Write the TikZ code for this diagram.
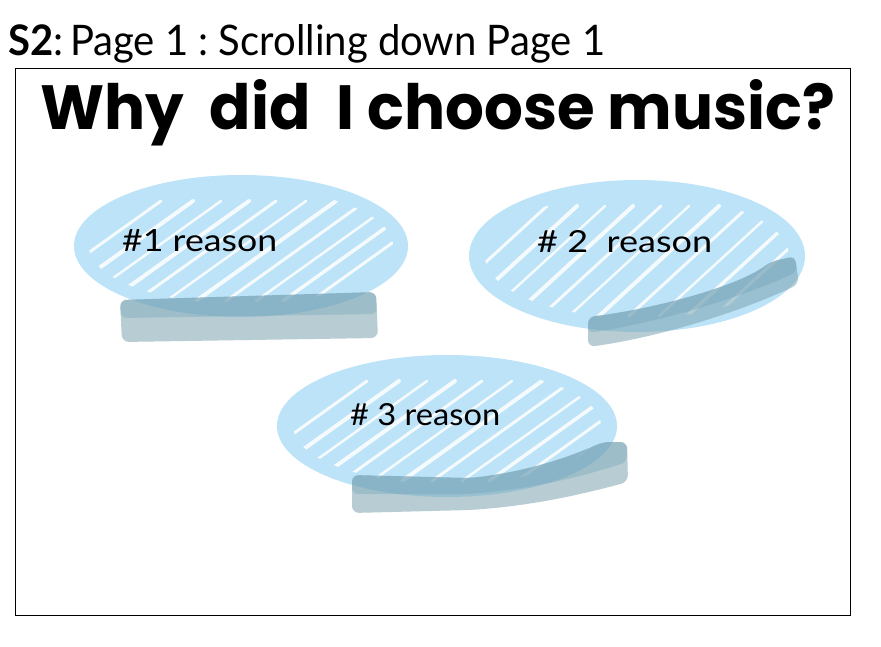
\documentclass[tikz,border=0pt]{standalone}
\usepackage{fontspec}
\usepackage{graphicx}
\setmainfont{Lato}
\newfontfamily\headfont{Poppins}
\newfontfamily\handfont{Lato}
\usetikzlibrary{shapes.geometric}
\definecolor{bubble}{RGB}{189,227,248}
\definecolor{shade}{RGB}{125,165,176}
\definecolor{shadetop}{RGB}{110,160,185}
\tikzset{
  bubblebox/.style={ellipse, fill=bubble, draw=none, inner sep=0pt},
  streak/.style={white, line cap=round, opacity=0.85},
  shadowbar/.style={fill=shade, opacity=0.55, rounded corners=7pt},
  shadowtop/.style={fill=shadetop, opacity=0.35, rounded corners=6pt},
  labeltext/.style={anchor=base west, inner sep=0pt, text=black},
}
\begin{document}
\begin{tikzpicture}[x=1pt,y=-1pt]
\useasboundingbox (0,0) rectangle (881,647);
\fill[white] (0,0) rectangle (881,647);

% title
\node[labeltext] (title) at (8,56) {\resizebox{597pt}{31pt}{\handfont\textbf{S2}:\,Page 1 :\ Scrolling\ down\ Page 1}};

% frame
\node[draw=black, line width=1.4pt, minimum width=835pt, minimum height=547pt, inner sep=0pt, anchor=north west] (frame) at (15,68) {};

% heading
\node[labeltext] (head) at (40,130) {\resizebox{795pt}{50pt}{\headfont\bfseries Why\ \ did\ \ I choose\ music?}};

% ---- bubble 1
\node[bubblebox, minimum width=334pt, minimum height=142pt] (b1) at (241,246) {};
\begin{scope}
\clip (b1.center) ellipse [x radius=152pt, y radius=58pt];
\foreach \a/\w in {-150/3,-118/4,-90/2.5,-62/4,-35/3,-5/2.5,25/4,55/3,85/2.5,112/3.5,140/3,168/2.5}{
  \draw[streak, line width=\w pt] ([xshift=\a pt-70pt, yshift=-55pt]b1.center) -- ([xshift=\a pt+70pt, yshift=45pt]b1.center);
}
\end{scope}
\fill[shadowbar] (120,300) -- (248,296) -- (376,292) -- (378,338) -- (250,340) -- (122,342) -- cycle;
\fill[shadowtop] (120,300) -- (248,296) -- (376,292) -- (377,314) -- (250,316) -- (121,318) -- cycle;
\node[labeltext] (t1) at (122,252) {\resizebox{155pt}{22pt}{\handfont\#1 reason}};

% ---- bubble 2
\node[bubblebox, minimum width=336pt, minimum height=152pt] (b2) at (637,256) {};
\begin{scope}
\clip (b2.center) ellipse [x radius=152pt, y radius=62pt];
\foreach \a/\w in {-150/3,-120/4,-92/2.5,-64/4,-36/3,-8/2.5,22/4,52/3,82/2.5,110/3.5,138/3,166/2.5}{
  \draw[streak, line width=\w pt] ([xshift=\a pt-60pt, yshift=-60pt]b2.center) -- ([xshift=\a pt+60pt, yshift=50pt]b2.center);
}
\end{scope}
\fill[shadowbar] (588,317) .. controls (660,308) and (740,285) .. (770,262) -- (795,256) -- (799,284) .. controls (740,312) and (660,337) .. (588,347) -- cycle;
\fill[shadowtop] (588,317) .. controls (660,308) and (740,285) .. (770,262) -- (795,256) -- (797,272) .. controls (740,298) and (660,322) .. (588,333) -- cycle;
\node[labeltext] (t2) at (537,252) {\resizebox{175pt}{22pt}{\handfont\#\ 2\ \ reason}};

% ---- bubble 3
\node[bubblebox, minimum width=340pt, minimum height=142pt] (b3) at (447,426) {};
\begin{scope}
\clip (b3.center) ellipse [x radius=154pt, y radius=58pt];
\foreach \a/\w in {-150/3,-118/4,-90/2.5,-62/4,-35/3,-5/2.5,25/4,55/3,85/2.5,112/3.5,140/3,168/2.5}{
  \draw[streak, line width=\w pt] ([xshift=\a pt-70pt, yshift=-55pt]b3.center) -- ([xshift=\a pt+70pt, yshift=45pt]b3.center);
}
\end{scope}
\fill[shadowbar] (352,475) -- (470,478) .. controls (540,470) and (585,450) .. (603,442) -- (627,442) -- (628,482) .. controls (590,492) and (540,505) .. (470,510) -- (352,513) -- cycle;
\fill[shadowtop] (352,475) -- (470,478) .. controls (540,470) and (585,450) .. (603,442) -- (627,442) -- (627,462) .. controls (590,474) and (540,488) .. (470,494) -- (352,494) -- cycle;
\node[labeltext] (t3) at (350,425) {\resizebox{150pt}{22pt}{\handfont\#\ 3\ reason}};
\end{tikzpicture}
\end{document}
